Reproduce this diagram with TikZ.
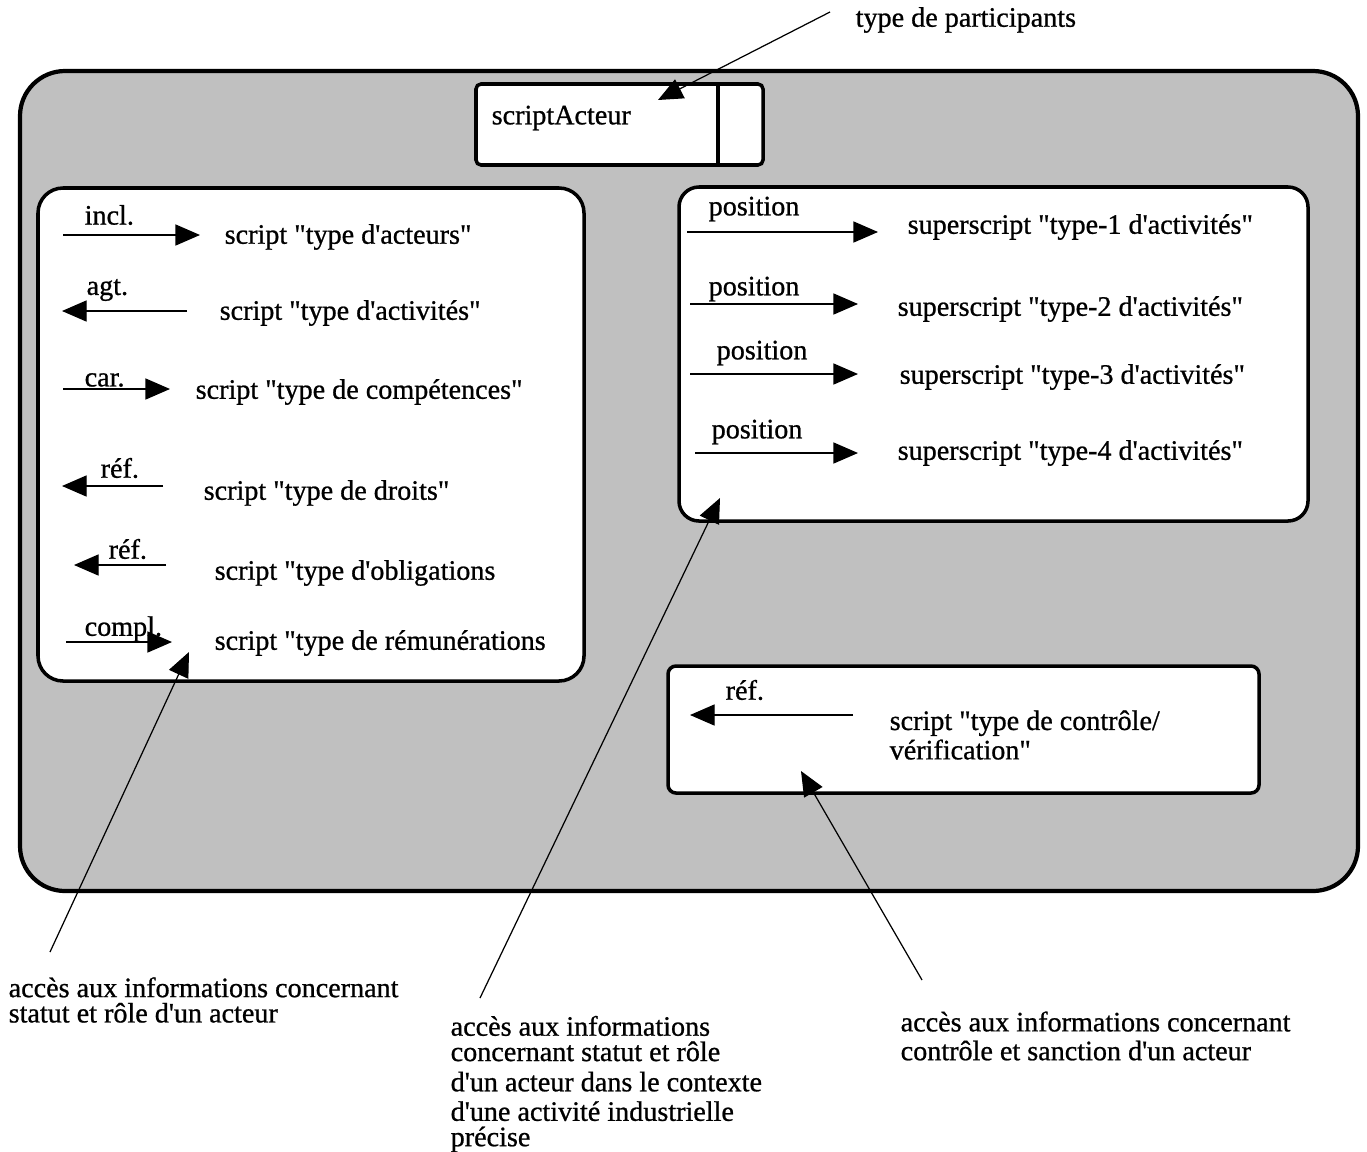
\documentclass[tikz,border=0pt]{standalone}
\usepackage{fontspec}
\setmainfont{Liberation Serif}[Ligatures = TeXOff, UprightFeatures = {FakeBold = 0.8}]
\usepackage{xcolor}
\usetikzlibrary{arrows.meta, positioning}

\definecolor{fond}{RGB}{192,192,192}

\tikzset{
	txt/.style = {anchor = west, inner sep = 0pt, align = left, font = \fontsize{8}{7.2}\selectfont},
	fleche/.style = {-{Triangle[length = 7pt, width = 6pt]}, line width = 0.35pt},
	boite/.style = {draw, line width = 1pt, fill = white},
}

\begin{document}
\begin{tikzpicture}[x = 0.01cm, y = -0.01cm]
	\useasboundingbox (0, 0) rectangle (1367, 1151);
	
	\draw [line width = 1.2pt, fill = fond, rounded corners = 0.45cm] (20, 71) rectangle (1358, 891);
	
	\draw [boite, rounded corners = 0.05cm] (476, 84) rectangle (763, 165);
	\draw [line width = 1pt] (718, 84) -- (718, 165);
	\node (acteur) [txt] at (491, 118) {scriptActeur};
	
	\draw [boite, rounded corners = 0.25cm] (38, 188) rectangle (584, 681);
	\draw [boite, rounded corners = 0.2cm] (679, 187) rectangle (1308, 521);
	\draw [boite, rounded corners = 0.08cm] (668, 666) rectangle (1259, 793);
	
	\foreach \xa/\xb/\y/\lx/\ly/\rel [count = \i] in {63/200/235/84/215/incl., 187/62/311/86/290/agt., 63/170/389/84/380/car., 163/62/486/100/468/réf., 166/74/565/108/549/réf., 66/172/642/84/629/compl.}
	{
		\coordinate (ga\i) at (\xa, \y);
		\coordinate (gb\i) at (\xb, \y);
		\draw [fleche] (ga\i) -- (gb\i);
		\node (gl\i) [txt] at (\lx, \ly) {\rel};
	}
	
	\node (g1) [txt] at (224, 237) {script "type d'acteurs"};
	\node (g2) [txt] at (219, 313) {script "type d'activités"};
	\node (g3) [txt] at (195, 392) {script "type de compétences"};
	\node (g4) [txt] at (203, 493) {script "type de droits"};
	\node (g5) [txt] at (214, 573) {script "type d'obligations};
	\node (g6) [txt] at (214, 643) {script "type de rémunérations};
	
	\foreach \xa/\xb/\y/\lx/\ly [count = \i] in {687/878/232/708/209, 690/858/304/708/289, 690/858/374/716/353, 695/858/453/711/432}
	{
		\coordinate (da\i) at (\xa, \y);
		\coordinate (db\i) at (\xb, \y);
		\draw [fleche] (da\i) -- (db\i);
		\node (dl\i) [txt] at (\lx, \ly) {position};
	}
	
	\node (d1) [txt] at (907, 227) {superscript "type-1 d'activités"};
	\node (d2) [txt] at (897, 309) {superscript "type-2 d'activités"};
	\node (d3) [txt] at (899, 377) {superscript "type-3 d'activités"};
	\node (d4) [txt] at (897, 453) {superscript "type-4 d'activités"};
	
	\coordinate (ca) at (853, 715);
	\coordinate (cb) at (690, 715);
	\draw [fleche] (ca) -- (cb);
	\node (cl) [txt] at (725, 690) {réf.};
	\node (c1) [txt] at (889, 735) {script "type de contrôle/\\vérification"};
	
	\node (part) [txt] at (855, 20) {type de participants};
	\node (info1) [txt] at (8, 1000) {accès aux informations concernant\\statut et rôle d'un acteur};
	\node (info2) [txt] at (450, 1084) {accès aux informations\\concernant statut et rôle\\[1.4pt]d'un acteur dans le contexte\\[1.2pt]d'une activité industrielle\\précise};
	\node (info3) [txt] at (900, 1036) {accès aux informations concernant\\[1pt]contrôle et sanction d'un acteur};
	
	\coordinate (pa) at (830, 12);
	\coordinate (pb) at (658, 100);
	\coordinate (qa) at (50, 952);
	\coordinate (qb) at (189, 652);
	\coordinate (ra) at (480, 998);
	\coordinate (rb) at (720, 498);
	\coordinate (sa) at (922, 980);
	\coordinate (sb) at (801, 771);
	
	\draw [fleche] (pa) -- (pb);
	\draw [fleche] (qa) -- (qb);
	\draw [fleche] (ra) -- (rb);
	\draw [fleche] (sa) -- (sb);
\end{tikzpicture}
\end{document}
